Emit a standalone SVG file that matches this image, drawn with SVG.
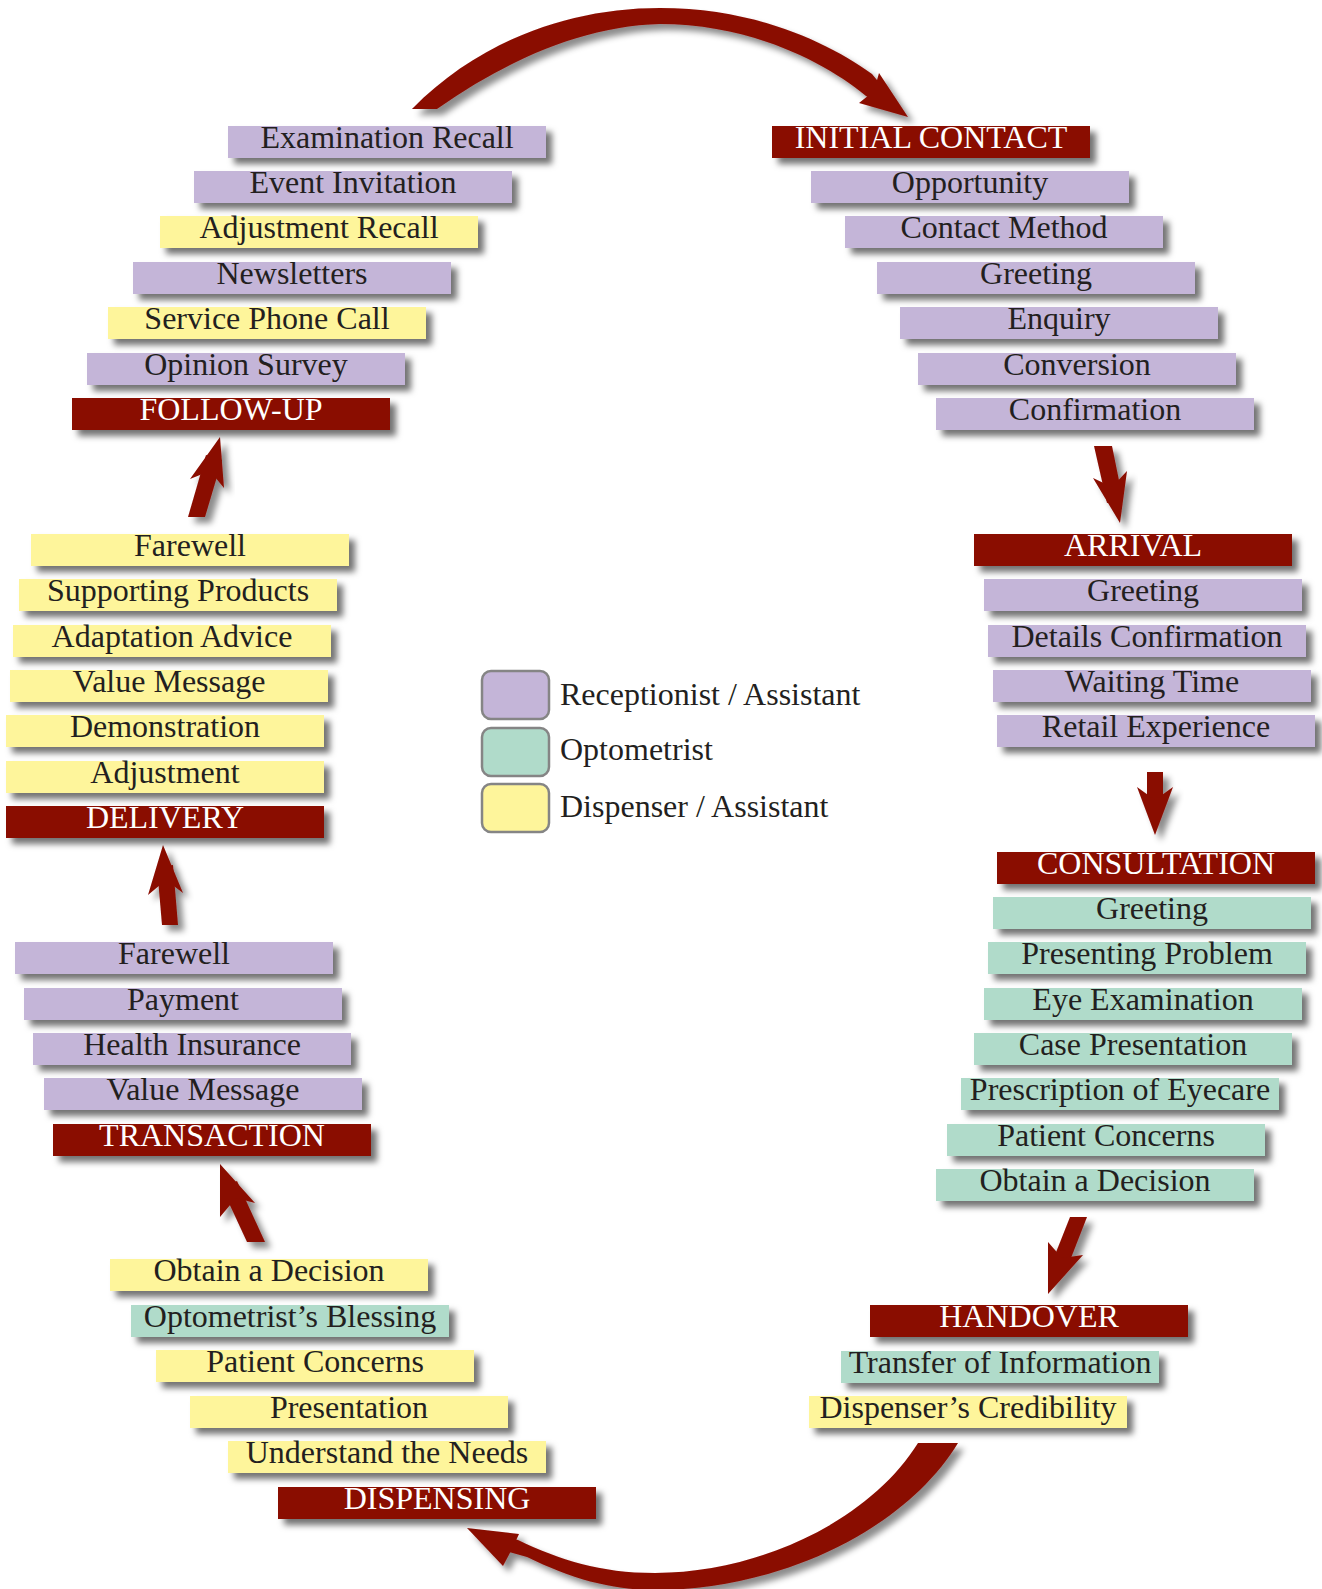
<svg xmlns="http://www.w3.org/2000/svg" width="1322" height="1589" viewBox="0 0 1322 1589">
  <defs>
    <filter id="shadow" x="-10%" y="-40%" width="125%" height="200%">
      <feGaussianBlur in="SourceAlpha" stdDeviation="3"/>
      <feOffset dx="6" dy="6" result="b"/>
      <feFlood flood-color="#000" flood-opacity="0.55"/>
      <feComposite in2="b" operator="in"/>
      <feMerge><feMergeNode/><feMergeNode in="SourceGraphic"/></feMerge>
    </filter>
    <filter id="ashadow" x="-20%" y="-20%" width="150%" height="150%">
      <feGaussianBlur in="SourceAlpha" stdDeviation="3"/>
      <feOffset dx="6" dy="6" result="b"/>
      <feFlood flood-color="#000" flood-opacity="0.45"/>
      <feComposite in2="b" operator="in"/>
      <feMerge><feMergeNode/><feMergeNode in="SourceGraphic"/></feMerge>
    </filter>
  </defs>
  <style>
    text { font-family: "Liberation Serif", "Times New Roman", serif; font-size: 32px; text-anchor: middle; fill: #231f20; }
    .bar { filter: url(#shadow); }
    .rec { fill: #c4b5d8; }
    .opt { fill: #b0dbca; }
    .dis { fill: #fef59b; }
    .hdr { fill: #8a0c02; }
    .hdr + text { fill: #ffffff; }
    .arrow { fill: #8a0c02; filter: url(#ashadow); }
    .key rect { stroke: #858585; stroke-width: 2.5; }
    .key text { text-anchor: start; }
  </style>

  <!-- connectors: each is a shaft plus a swept arrowhead -->
  <g id="connectors">
    <!-- follow-up back round to initial contact -->
    <g class="arrow">
      <path d="M412 109 C480 40 570 8 660 8 C755 8 828 42 872 74 L891 97 L884 106 L866 96 C825 62 750 24 660 24 C585 26 510 58 437 109 Z"/>
      <path d="M908 117 L879 73 L874 91 L859 103 Z"/>
    </g>
    <!-- initial contact to arrival -->
    <g class="arrow">
      <path d="M1094 446 L1112 446 L1123 500 L1107 503 Z"/>
      <path d="M1120 523 L1093 478 L1112 487 L1127 471 Z"/>
    </g>
    <!-- arrival to consultation -->
    <g class="arrow">
      <path d="M1147 772 L1163 772 L1163 812 L1147 812 Z"/>
      <path d="M1155 835 L1137 787 L1155 800 L1173 787 Z"/>
    </g>
    <!-- consultation to handover -->
    <g class="arrow">
      <path d="M1070 1217 L1087 1217 L1064 1276 L1049 1270 Z"/>
      <path d="M1048 1294 L1048 1242 L1062 1258 L1083 1255 Z"/>
    </g>
    <!-- handover to dispensing -->
    <g class="arrow">
      <path d="M918 1443 C870 1520 760 1573 655 1573 C600 1573 560 1560 518 1540 L497 1534 L491 1547 L527 1557 C570 1578 610 1590 655 1590 C780 1590 905 1530 958 1443 Z"/>
      <path d="M467 1528 L519 1534 L512 1549 L503 1566 Z"/>
    </g>
    <!-- dispensing to transaction -->
    <g class="arrow">
      <path d="M247 1242 L265 1242 L237 1181 L222 1188 Z"/>
      <path d="M220 1164 L255 1203 L236 1198 L220 1217 Z"/>
    </g>
    <!-- transaction to delivery -->
    <g class="arrow">
      <path d="M162 925 L178 925 L173 865 L157 867 Z"/>
      <path d="M163 845 L183 893 L166 880 L148 895 Z"/>
    </g>
    <!-- delivery to follow-up -->
    <g class="arrow">
      <path d="M188 517 L205 517 L222 460 L206 455 Z"/>
      <path d="M220 437 L224 488 L210 471 L190 479 Z"/>
    </g>
  </g>

  <!-- follow-up -->
  <g id="examination-recall"><rect class="bar rec" x="228" y="126" width="318" height="32"/><text x="387" y="148">Examination Recall</text></g>
  <g id="event-invitation"><rect class="bar rec" x="194" y="171" width="318" height="32"/><text x="353" y="193">Event Invitation</text></g>
  <g id="adjustment-recall"><rect class="bar dis" x="160" y="216" width="318" height="32"/><text x="319" y="238">Adjustment Recall</text></g>
  <g id="newsletters"><rect class="bar rec" x="133" y="262" width="318" height="32"/><text x="292" y="284">Newsletters</text></g>
  <g id="service-phone-call"><rect class="bar dis" x="108" y="307" width="318" height="32"/><text x="267" y="329">Service Phone Call</text></g>
  <g id="opinion-survey"><rect class="bar rec" x="87" y="353" width="318" height="32"/><text x="246" y="375">Opinion Survey</text></g>
  <g id="follow-up"><rect class="bar hdr" x="72" y="398" width="318" height="32"/><text x="231" y="420">FOLLOW-UP</text></g>

  <!-- initial contact -->
  <g id="initial-contact"><rect class="bar hdr" x="772" y="126" width="318" height="32"/><text x="931" y="148">INITIAL CONTACT</text></g>
  <g id="opportunity"><rect class="bar rec" x="811" y="171" width="318" height="32"/><text x="970" y="193">Opportunity</text></g>
  <g id="contact-method"><rect class="bar rec" x="845" y="216" width="318" height="32"/><text x="1004" y="238">Contact Method</text></g>
  <g id="ic-greeting"><rect class="bar rec" x="877" y="262" width="318" height="32"/><text x="1036" y="284">Greeting</text></g>
  <g id="enquiry"><rect class="bar rec" x="900" y="307" width="318" height="32"/><text x="1059" y="329">Enquiry</text></g>
  <g id="conversion"><rect class="bar rec" x="918" y="353" width="318" height="32"/><text x="1077" y="375">Conversion</text></g>
  <g id="confirmation"><rect class="bar rec" x="936" y="398" width="318" height="32"/><text x="1095" y="420">Confirmation</text></g>

  <!-- arrival -->
  <g id="arrival"><rect class="bar hdr" x="974" y="534" width="318" height="32"/><text x="1133" y="556">ARRIVAL</text></g>
  <g id="ar-greeting"><rect class="bar rec" x="984" y="579" width="318" height="32"/><text x="1143" y="601">Greeting</text></g>
  <g id="details-confirmation"><rect class="bar rec" x="988" y="625" width="318" height="32"/><text x="1147" y="647">Details Confirmation</text></g>
  <g id="waiting-time"><rect class="bar rec" x="993" y="670" width="318" height="32"/><text x="1152" y="692">Waiting Time</text></g>
  <g id="retail-experience"><rect class="bar rec" x="997" y="715" width="318" height="32"/><text x="1156" y="737">Retail Experience</text></g>

  <!-- consultation -->
  <g id="consultation"><rect class="bar hdr" x="997" y="852" width="318" height="32"/><text x="1156" y="874">CONSULTATION</text></g>
  <g id="co-greeting"><rect class="bar opt" x="993" y="897" width="318" height="32"/><text x="1152" y="919">Greeting</text></g>
  <g id="presenting-problem"><rect class="bar opt" x="988" y="942" width="318" height="32"/><text x="1147" y="964">Presenting Problem</text></g>
  <g id="eye-examination"><rect class="bar opt" x="984" y="988" width="318" height="32"/><text x="1143" y="1010">Eye Examination</text></g>
  <g id="case-presentation"><rect class="bar opt" x="974" y="1033" width="318" height="32"/><text x="1133" y="1055">Case Presentation</text></g>
  <g id="prescription"><rect class="bar opt" x="961" y="1078" width="318" height="32"/><text x="1120" y="1100">Prescription of Eyecare</text></g>
  <g id="co-patient-concerns"><rect class="bar opt" x="947" y="1124" width="318" height="32"/><text x="1106" y="1146">Patient Concerns</text></g>
  <g id="co-obtain-decision"><rect class="bar opt" x="936" y="1169" width="318" height="32"/><text x="1095" y="1191">Obtain a Decision</text></g>

  <!-- handover -->
  <g id="handover"><rect class="bar hdr" x="870" y="1305" width="318" height="32"/><text x="1029" y="1327">HANDOVER</text></g>
  <g id="transfer-information"><rect class="bar opt" x="841" y="1351" width="318" height="32"/><text x="1000" y="1373">Transfer of Information</text></g>
  <g id="dispenser-credibility"><rect class="bar dis" x="809" y="1396" width="318" height="32"/><text x="968" y="1418">Dispenser’s Credibility</text></g>

  <!-- dispensing -->
  <g id="di-obtain-decision"><rect class="bar dis" x="110" y="1259" width="318" height="32"/><text x="269" y="1281">Obtain a Decision</text></g>
  <g id="optometrist-blessing"><rect class="bar opt" x="131" y="1305" width="318" height="32"/><text x="290" y="1327">Optometrist’s Blessing</text></g>
  <g id="di-patient-concerns"><rect class="bar dis" x="156" y="1350" width="318" height="32"/><text x="315" y="1372">Patient Concerns</text></g>
  <g id="presentation"><rect class="bar dis" x="190" y="1396" width="318" height="32"/><text x="349" y="1418">Presentation</text></g>
  <g id="understand-needs"><rect class="bar dis" x="228" y="1441" width="318" height="32"/><text x="387" y="1463">Understand the Needs</text></g>
  <g id="dispensing"><rect class="bar hdr" x="278" y="1487" width="318" height="32"/><text x="437" y="1509">DISPENSING</text></g>

  <!-- transaction -->
  <g id="tr-farewell"><rect class="bar rec" x="15" y="942" width="318" height="32"/><text x="174" y="964">Farewell</text></g>
  <g id="payment"><rect class="bar rec" x="24" y="988" width="318" height="32"/><text x="183" y="1010">Payment</text></g>
  <g id="health-insurance"><rect class="bar rec" x="33" y="1033" width="318" height="32"/><text x="192" y="1055">Health Insurance</text></g>
  <g id="tr-value-message"><rect class="bar rec" x="44" y="1078" width="318" height="32"/><text x="203" y="1100">Value Message</text></g>
  <g id="transaction"><rect class="bar hdr" x="53" y="1124" width="318" height="32"/><text x="212" y="1146">TRANSACTION</text></g>

  <!-- delivery -->
  <g id="de-farewell"><rect class="bar dis" x="31" y="534" width="318" height="32"/><text x="190" y="556">Farewell</text></g>
  <g id="supporting-products"><rect class="bar dis" x="19" y="579" width="318" height="32"/><text x="178" y="601">Supporting Products</text></g>
  <g id="adaptation-advice"><rect class="bar dis" x="13" y="625" width="318" height="32"/><text x="172" y="647">Adaptation Advice</text></g>
  <g id="de-value-message"><rect class="bar dis" x="10" y="670" width="318" height="32"/><text x="169" y="692">Value Message</text></g>
  <g id="demonstration"><rect class="bar dis" x="6" y="715" width="318" height="32"/><text x="165" y="737">Demonstration</text></g>
  <g id="adjustment"><rect class="bar dis" x="6" y="761" width="318" height="32"/><text x="165" y="783">Adjustment</text></g>
  <g id="delivery"><rect class="bar hdr" x="6" y="806" width="318" height="32"/><text x="165" y="828">DELIVERY</text></g>

  <!-- key -->
  <g id="key" class="key">
    <rect class="rec" x="482" y="671" width="67" height="48" rx="9"/>
    <text x="560" y="705">Receptionist / Assistant</text>
    <rect class="opt" x="482" y="728" width="67" height="48" rx="9"/>
    <text x="560" y="760">Optometrist</text>
    <rect class="dis" x="482" y="784" width="67" height="48" rx="9"/>
    <text x="560" y="817">Dispenser / Assistant</text>
  </g>
</svg>
